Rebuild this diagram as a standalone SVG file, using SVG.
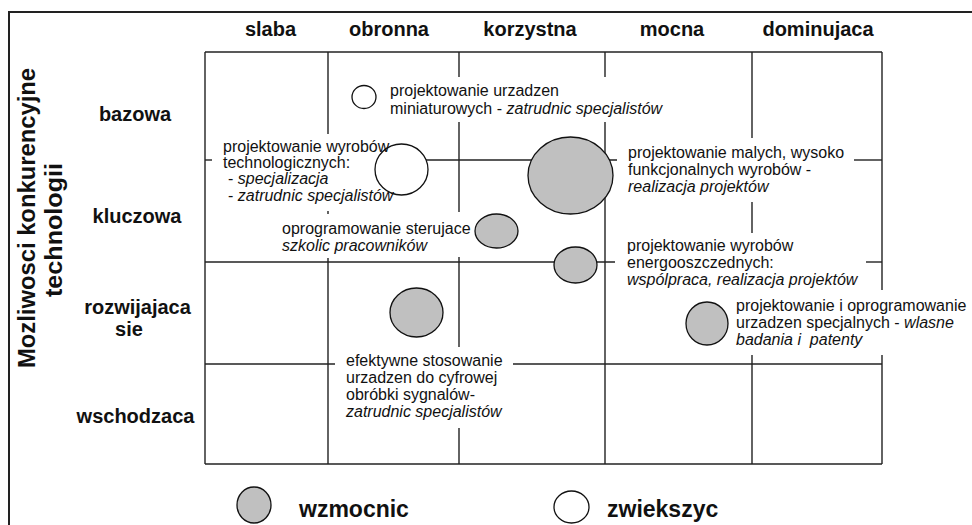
<svg xmlns="http://www.w3.org/2000/svg" width="972" height="525" viewBox="0 0 972 525">
<style>
text{font-family:"Liberation Sans",Arial,sans-serif;fill:#111}
.h{font-size:20px;font-weight:bold}
.ax{font-size:23px;font-weight:bold}
.lg{font-size:23px;font-weight:bold}
.t{font-size:16px}
.i{font-style:italic}
.g line{stroke:#222;stroke-width:1.4}
.fr{stroke:#222;stroke-width:2;fill:none}
.gr{fill:#c0c0c0;stroke:#111;stroke-width:1.3}
.wh{fill:#fff;stroke:#111;stroke-width:1.3}
</style>
<rect width="972" height="525" fill="#fff"/>
<path class="fr" d="M9,525 V12 H972"/>

<g id="grid" class="g">
<line x1="205" y1="52" x2="882" y2="52"/>
<line x1="205" y1="464" x2="882" y2="464"/>
<line x1="205" y1="52" x2="205" y2="464"/>
<line x1="328" y1="52" x2="328" y2="134"/>
<line x1="328" y1="211" x2="328" y2="214"/>
<line x1="328" y1="258" x2="328" y2="464"/>
<line x1="459" y1="52" x2="459" y2="77"/>
<line x1="459" y1="122" x2="459" y2="212"/>
<line x1="459" y1="257" x2="459" y2="347"/>
<line x1="459" y1="428" x2="459" y2="464"/>
<line x1="605" y1="52" x2="605" y2="77"/>
<line x1="605" y1="122" x2="605" y2="464"/>
<line x1="752" y1="52" x2="752" y2="138"/>
<line x1="752" y1="202" x2="752" y2="233"/>
<line x1="752" y1="355" x2="752" y2="464"/>
<line x1="882" y1="52" x2="882" y2="290"/>
<line x1="882" y1="355" x2="882" y2="464"/>
<line x1="205" y1="160" x2="212" y2="160"/>
<line x1="380" y1="160" x2="617" y2="160"/>
<line x1="854" y1="160" x2="882" y2="160"/>
<line x1="205" y1="262" x2="615" y2="262"/>
<line x1="866" y1="262" x2="882" y2="262"/>
<line x1="205" y1="364" x2="335" y2="364"/>
<line x1="513" y1="364" x2="882" y2="364"/>
</g>

<g id="col-headers" class="h" text-anchor="middle">
<text x="270.5" y="36">slaba</text>
<text x="389" y="36">obronna</text>
<text x="530" y="36">korzystna</text>
<text x="672" y="36">mocna</text>
<text x="818" y="36">dominujaca</text>
</g>

<g id="row-headers" class="h" text-anchor="middle">
<text x="135" y="121">bazowa</text>
<text x="137" y="223">kluczowa</text>
<text x="137.5" y="314">rozwijajaca</text>
<text x="129" y="336">sie</text>
<text x="135.5" y="423">wschodzaca</text>
</g>

<g id="axis-title" class="ax" text-anchor="middle">
<text transform="translate(35,218) rotate(-90)" textLength="300" lengthAdjust="spacingAndGlyphs">Mozliwosci  konkurencyjne</text>
<text transform="translate(62,230) rotate(-90)" textLength="134" lengthAdjust="spacingAndGlyphs">technologii</text>
</g>

<g id="node-miniaturowe">
<ellipse class="wh" cx="364" cy="97" rx="12" ry="11.5"/>
<text class="t" x="390" y="96">projektowanie urzadzen</text>
<text class="t" x="390" y="114">miniaturowych - <tspan class="i">zatrudnic specjalistów</tspan></text>
</g>

<g id="node-technologiczne">
<ellipse class="wh" cx="401.5" cy="169.5" rx="26.5" ry="25.5"/>
<text class="t" x="223" y="152">projektowanie wyrobów</text>
<text class="t" x="223" y="168">technologicznych:</text>
<text class="t" x="228" y="184">- <tspan class="i">specjalizacja</tspan></text>
<text class="t" x="228" y="200.5">- <tspan class="i">zatrudnic specjalistów</tspan></text>
</g>

<g id="node-male-wyroby">
<ellipse class="gr" cx="570.5" cy="175.5" rx="42.5" ry="38.5"/>
<text class="t" x="628" y="158">projektowanie malych, wysoko</text>
<text class="t" x="628" y="175">funkcjonalnych wyrobów -</text>
<text class="t i" x="628" y="192">realizacja projektów</text>
</g>

<g id="node-oprogramowanie">
<ellipse class="gr" cx="496.5" cy="231" rx="21.5" ry="17"/>
<text class="t" x="282" y="234">oprogramowanie sterujace</text>
<text class="t i" x="282" y="251">szkolic pracowników</text>
</g>

<g id="node-energooszczedne">
<ellipse class="gr" cx="575.5" cy="265" rx="21.5" ry="18"/>
<text class="t" x="627" y="251">projektowanie wyrobów</text>
<text class="t" x="627" y="268">energooszczednych:</text>
<text class="t i" x="627" y="285">wspólpraca, realizacja projektów</text>
</g>

<g id="node-cyfrowa-obrobka">
<ellipse class="gr" cx="416.5" cy="312.5" rx="26.5" ry="24.5"/>
<text class="t" x="346" y="366">efektywne stosowanie</text>
<text class="t" x="346" y="383">urzadzen do cyfrowej</text>
<text class="t" x="346" y="400">obróbki sygnalów-</text>
<text class="t i" x="346" y="417">zatrudnic specjalistów</text>
</g>

<g id="node-specjalne">
<ellipse class="gr" cx="707" cy="323.5" rx="21" ry="21.5"/>
<text class="t" x="736" y="311">projektowanie i oprogramowanie</text>
<text class="t" x="736" y="328">urzadzen specjalnych - <tspan class="i">wlasne</tspan></text>
<text class="t i" x="736" y="345" xml:space="preserve">badania i  patenty</text>
</g>

<g id="legend">
<ellipse class="gr" cx="254" cy="505" rx="17" ry="18"/>
<text class="lg" x="299" y="517">wzmocnic</text>
<ellipse class="wh" cx="571.5" cy="507" rx="17.5" ry="16"/>
<text class="lg" x="607" y="517">zwiekszyc</text>
</g>
</svg>
